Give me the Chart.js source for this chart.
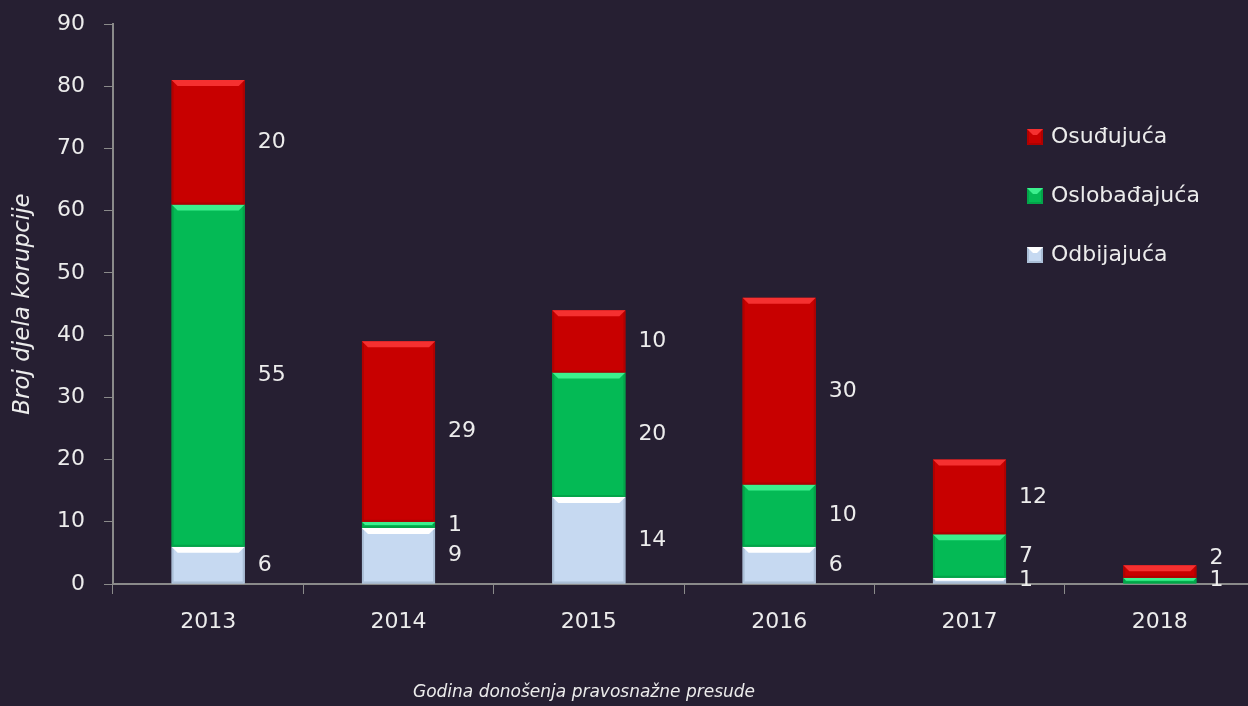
<!DOCTYPE html>
<html>
<head>
<meta charset="utf-8">
<script src="https://cdn.jsdelivr.net/npm/chart.js@4.4.1/dist/chart.umd.min.js"></script>
<style>
html, body { margin: 0; padding: 0; background: #261f32; overflow: hidden; }
#wrap { position: relative; width: 1262px; height: 706px; }
</style>
</head>
<body>
<div id="wrap"><canvas id="chart"></canvas></div>
<script>
// podaci
var godine = ['2013', '2014', '2015', '2016', '2017', '2018'];
var odbijajuca = [6, 9, 14, 6, 1, 0];
var oslobadjajuca = [55, 1, 20, 10, 7, 1];
var osudjujuca = [20, 29, 10, 30, 12, 2];
var yMax = 90;
var yKorak = 10;

var boje = {
    osud: { base: '#c80000', top: '#f53030', side: '#b00000' },
    oslo: { base: '#04ba55', top: '#3cf08e', side: '#03a449' },
    odbi: { base: '#c6d9f1', top: '#ffffff', side: '#aabed6' }
};
var tekst = '#ececec';
var font = 'DejaVu Sans';

// bevel efekt na stupcima
function bevelRect(ctx, l, t, r, b, c) {
    var h = b - t;
    var bt = Math.min(6, h / 2);
    var bs = Math.min(2, h / 2);
    ctx.fillStyle = c.base;
    ctx.fillRect(l, t, r - l, h);
    ctx.fillStyle = c.side;
    ctx.beginPath();
    ctx.moveTo(l, t); ctx.lineTo(l + bs, t + bs); ctx.lineTo(l + bs, b - bs); ctx.lineTo(l, b);
    ctx.closePath(); ctx.fill();
    ctx.beginPath();
    ctx.moveTo(r, t); ctx.lineTo(r - bs, t + bs); ctx.lineTo(r - bs, b - bs); ctx.lineTo(r, b);
    ctx.closePath(); ctx.fill();
    ctx.beginPath();
    ctx.moveTo(l, b); ctx.lineTo(l + bs, b - bs); ctx.lineTo(r - bs, b - bs); ctx.lineTo(r, b);
    ctx.closePath(); ctx.fill();
    ctx.fillStyle = c.top;
    ctx.beginPath();
    ctx.moveTo(l, t); ctx.lineTo(r, t); ctx.lineTo(r - bt, t + bt); ctx.lineTo(l + bt, t + bt);
    ctx.closePath(); ctx.fill();
}

var crtanje = {
    id: 'crtanje',
    afterDatasetsDraw: function (chart) {
        var ctx = chart.ctx;
        ctx.save();
        var zadnjiY = {};
        chart.data.datasets.forEach(function (ds, di) {
            var meta = chart.getDatasetMeta(di);
            meta.data.forEach(function (el, i) {
                var v = ds.data[i];
                if (!v) return;
                var p = el.getProps(['x', 'y', 'base', 'width'], true);
                var l = p.x - p.width / 2, r = p.x + p.width / 2;
                var t = Math.min(p.y, p.base), b = Math.max(p.y, p.base);
                bevelRect(ctx, l, t, r, b, ds.bevel);
                // oznaka vrijednosti
                var ly = (t + b) / 2;
                if (zadnjiY[i] !== undefined && ly > zadnjiY[i] - 22) ly = zadnjiY[i] - 22;
                zadnjiY[i] = ly;
                ctx.fillStyle = tekst;
                ctx.font = '22px "' + font + '"';
                ctx.textAlign = 'left';
                ctx.textBaseline = 'middle';
                ctx.fillText(String(v), r + 13, ly);
            });
        });
        ctx.restore();
    },
    afterDraw: function (chart) {
        var ctx = chart.ctx;
        ctx.save();
        // legenda
        var red = [2, 1, 0];
        red.forEach(function (di, k) {
            var ds = chart.data.datasets[di];
            var y = 137 + k * 59;
            bevelRect(ctx, 1027, y - 8, 1043, y + 8, ds.bevel);
            ctx.fillStyle = tekst;
            ctx.font = '22px "' + font + '"';
            ctx.textAlign = 'left';
            ctx.textBaseline = 'middle';
            ctx.fillText(ds.label, 1051, y);
        });
        // naslov x osi
        ctx.font = 'italic 17px "' + font + '"';
        ctx.textAlign = 'center';
        ctx.textBaseline = 'middle';
        ctx.fillText('Godina donošenja pravosnažne presude', 584, 693);
        ctx.restore();
    }
};

var ctx = document.getElementById('chart');
var chart = new Chart(ctx, {
    type: 'bar',
    data: {
        labels: godine,
        datasets: [{
            label: 'Odbijajuća',
            data: odbijajuca,
            backgroundColor: 'rgba(0,0,0,0)',
            bevel: boje.odbi
        }, {
            label: 'Oslobađajuća',
            data: oslobadjajuca,
            backgroundColor: 'rgba(0,0,0,0)',
            bevel: boje.oslo
        }, {
            label: 'Osuđujuća',
            data: osudjujuca,
            backgroundColor: 'rgba(0,0,0,0)',
            bevel: boje.osud
        }]
    },
    options: {
        responsive: true,
        maintainAspectRatio: false,
        animation: false,
        categoryPercentage: 1,
        barPercentage: 0.384,
        layout: { padding: { top: 24, right: 7, left: 0, bottom: 0 } },
        plugins: {
            legend: { display: false },
            tooltip: { enabled: false }
        },
        scales: {
            x: {
                stacked: true,
                afterFit: function (s) { s.height = 122; s.paddingLeft = 0; s.paddingRight = 0; },
                border: { display: true, color: '#8a8a8a', width: 2 },
                grid: { display: true, drawOnChartArea: false, drawTicks: true, tickLength: 10, color: '#8a8a8a', lineWidth: 1, offset: true },
                ticks: { color: tekst, font: { family: font, size: 22 }, padding: 15 }
            },
            y: {
                stacked: true,
                min: 0,
                max: yMax,
                afterFit: function (s) { s.width = 113; s.paddingTop = 0; s.paddingBottom = 0; },
                border: { display: true, color: '#8a8a8a', width: 2 },
                grid: { display: true, drawOnChartArea: false, drawTicks: true, tickLength: 9, color: '#8a8a8a' },
                ticks: { stepSize: yKorak, color: tekst, font: { family: font, size: 22 }, padding: 19 },
                title: {
                    display: true,
                    text: 'Broj djela korupcije',
                    color: tekst,
                    font: { family: font, size: 23, style: 'italic' },
                    padding: { top: 9, bottom: 0 }
                }
            }
        }
    },
    plugins: [crtanje]
});
</script>
</body>
</html>
